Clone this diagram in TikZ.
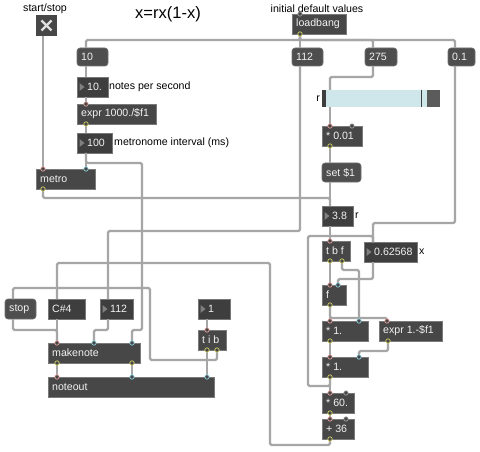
\documentclass[tikz,border=0pt]{standalone}
\usepackage{fontspec}
\setmainfont{Liberation Sans}
\usetikzlibrary{shapes,arrows,positioning}
\definecolor{boxbg}{HTML}{474747}
\definecolor{boxline}{HTML}{7A7A7A}
\definecolor{msgbg}{HTML}{4E4E4E}
\definecolor{numbg}{HTML}{3E3E3E}
\definecolor{cord}{HTML}{A6A6A6}
\definecolor{hotin}{HTML}{E9A3A0}
\definecolor{coldin}{HTML}{8FD3E3}
\definecolor{outc}{HTML}{D4D46A}
\definecolor{idle}{HTML}{A0A0A0}
\definecolor{slidebg}{HTML}{CFE6EA}
\tikzstyle{base}=[rectangle,anchor=north west,inner sep=0pt,outer sep=0pt,minimum height=20pt,line width=0.6pt]
\tikzstyle{obj}=[base,fill=boxbg,draw=boxline]
\tikzstyle{msg}=[base,fill=msgbg,draw=msgbg!80!white,rounded corners=3pt,minimum height=19pt]
\tikzstyle{num}=[base,fill=numbg,draw=numbg!70!white]
\tikzstyle{txt}=[anchor=west,inner sep=0pt,text=white!95!black,font=\fontsize{10.6}{12}\selectfont]
\tikzstyle{cmt}=[inner sep=0pt,font=\fontsize{10.6}{12}\selectfont]
\tikzstyle{cable}=[draw=cord,line width=2.4pt,rounded corners=1.5pt]
\tikzstyle{port}=[line width=0.7pt,fill=boxbg]

\newcommand{\objbox}[5]{% name, x, y, width, text
  \node[obj,minimum width=#4pt] (#1) at (#2,#3) {};
  \node[txt] (#1-t) at ([xshift=4pt]#1.west) {#5};}
\newcommand{\msgbox}[6][19]{% height, name, x, y, width, text
  \node[msg,minimum width=#5pt,minimum height=#1pt] (#2) at (#3,#4) {};
  \node[txt] (#2-t) at ([xshift=4pt]#2.west) {#6};}
\newcommand{\numbox}[5]{% name, x, y, width, text
  \node[num,minimum width=#4pt] (#1) at (#2,#3) {};
  \fill[gray] ([xshift=2.5pt,yshift=4pt]#1.west) -- ++(5pt,-4pt) -- ++(-5pt,-4pt) -- cycle;
  \node[txt] (#1-t) at ([xshift=10pt]#1.west) {#5};}
\newcommand{\inport}[3]{\draw[port,draw=#3] ([xshift=#2pt]#1.north west) circle (2.2pt);}
\newcommand{\outport}[2]{\draw[port,draw=outc] ([xshift=#2pt]#1.south west) circle (2.2pt);}

\begin{document}
\begin{tikzpicture}[x=1pt,y=-1pt]
\useasboundingbox[fill=white] (0,0) rectangle (480,452);

% comments
\node[cmt] (lblstart) at (45,9) {start/stop};
\node[cmt,font=\fontsize{16.5}{18}\selectfont] (title) at (168,14) {x=rx(1-x)};
\node[cmt] (lblinit) at (317,9) {initial default values};
\node[cmt,anchor=west] (lblnps) at (109,87) {notes per second};
\node[cmt,anchor=west] (lblint) at (114,143) {metronome interval (ms)};
\node[cmt,anchor=east] (lblr) at (320,99) {r};
\node[cmt,anchor=west] (lblr2) at (355,216) {r};
\node[cmt,anchor=west] (lblx) at (419,252) {x};

% toggle
\node[base,minimum width=21pt,minimum height=21pt,fill=boxbg] (toggle) at (36,15) {};
\draw[white!88!black,line width=2.2pt] ([shift={(5.5pt,-5.5pt)}]toggle.north west) -- ([shift={(-5.5pt,5.5pt)}]toggle.south east);
\draw[white!88!black,line width=2.2pt] ([shift={(5.5pt,5.5pt)}]toggle.south west) -- ([shift={(-5.5pt,-5.5pt)}]toggle.north east);

% tempo column
\msgbox[18]{msg10}{77}{48}{31}{10}
\numbox{num10}{77}{77}{31}{10.}
\objbox{expr1000}{77}{104}{79}{expr 1000./\$f1}
\numbox{num100}{77}{133}{35}{100}
\objbox{metro}{36}{169}{59}{metro}

% init values
\objbox{loadbang}{292}{14}{54}{loadbang}
\msgbox[18]{msg112}{292}{48}{31}{112}
\msgbox[18]{msg275}{365}{48}{32}{275}
\msgbox[18]{msg01}{448}{48}{27}{0.1}

% r slider
\node[base,minimum width=118pt,minimum height=17pt,fill=slidebg] (slider) at (322,90) {};
\fill[numbg] (slider.north west) rectangle ([xshift=4pt]slider.south west);
\draw[numbg,line width=1pt] ([xshift=99.5pt]slider.north west) -- ([xshift=99.5pt]slider.south west);
\fill[numbg!85!white] ([xshift=105pt]slider.north west) rectangle (slider.south east);

% logistic map
\objbox{mul001}{322}{126}{40}{* 0.01}
\msgbox{set1}{322}{163}{39}{set \$1}
\numbox{num38}{322}{206}{31}{3.8}
\objbox{tbf}{322}{241}{28}{t b f}
\numbox{numx}{364}{242}{53}{0.62568}
\objbox{fbox}{322}{285}{24}{f}
\objbox{mul1a}{322}{321}{46}{* 1.}
\objbox{expr1m}{379}{321}{63}{expr 1.-\$f1}
\objbox{mul1b}{322}{357}{46}{* 1.}
\objbox{mul60}{322}{393}{32}{* 60.}
\objbox{add36}{322}{419}{32}{+ 36}

% note output
\msgbox[20]{stop}{5}{299}{31}{stop}
\node[num,minimum width=37pt] (cs4) at (48,299) {};
\node[txt] (cs4-t) at ([xshift=4pt]cs4.west) {C\#4};
\numbox{num112}{100}{299}{33}{112}
\numbox{num1}{198}{299}{32}{1}
\objbox{tib}{198}{330}{28}{t i b}
\objbox{makenote}{48}{343}{92}{makenote}
\objbox{noteout}{48}{377}{166}{noteout}

% cables
\draw[cable] ([xshift=8pt]loadbang.south west) -- ++(0,6) -| ([xshift=9pt]msg10.north west);
\draw[cable] ([xshift=8pt]loadbang.south west) -- ([xshift=8pt]msg112.north west);
\draw[cable] ([xshift=8pt]loadbang.south west) -- ++(0,6) -| ([xshift=8pt]msg275.north west);
\draw[cable] ([xshift=8pt]loadbang.south west) -- ++(0,6) -| ([xshift=7pt]msg01.north west);
\draw[cable] ([xshift=9pt]msg10.south west) -- ([xshift=9pt]num10.north west);
\draw[cable] ([xshift=9pt]num10.south west) -- ([xshift=9pt]expr1000.north west);
\draw[cable] ([xshift=9pt]expr1000.south west) -- ([xshift=9pt]num100.north west);
\draw[cable] ([xshift=9pt]num100.south west) -- ([xshift=50pt]metro.north west);
\draw[cable] ([xshift=9pt]num100.south west) -- ++(0,10) -| (142,330) -| ([xshift=84pt]makenote.north west);
\draw[cable] ([xshift=7pt]toggle.south west) -- ([xshift=7pt]metro.north west);
\draw[cable] ([xshift=7pt]metro.south west) -- ++(0,9) -| ([xshift=8pt]num38.north west);
\draw[cable] ([xshift=8pt]msg112.south west) -- ++(0,165) -| ([xshift=8pt]num112.north west);
\draw[cable] ([xshift=8pt]num112.south west) -- ++(0,11) -| ([xshift=46pt]makenote.north west);
\draw[cable] ([xshift=8pt]stop.south west) -- ++(0,11) -| ([xshift=9pt]makenote.north west);
\draw[cable] ([xshift=9pt]cs4.south west) -- ([xshift=9pt]makenote.north west);
\draw[cable] ([xshift=8pt]add36.south west) -- ++(0,6) -| (270,263) -| ([xshift=9pt]cs4.north west);
\draw[cable] ([xshift=19pt]tib.south west) -- ++(0,10) -| (150,288) -| ([xshift=8pt]stop.north west);
\draw[cable] ([xshift=9pt]tib.south west) -- ([xshift=159pt]noteout.north west);
\draw[cable] ([xshift=9pt]num1.south west) -- ([xshift=9pt]tib.north west);
\draw[cable] ([xshift=9pt]makenote.south west) -- ([xshift=9pt]noteout.north west);
\draw[cable] ([xshift=84pt]makenote.south west) -- ([xshift=84pt]noteout.north west);
\draw[cable] ([xshift=8pt]msg275.south west) -- ++(0,11) -| ([xshift=8pt]slider.north west);
\draw[cable] ([xshift=8pt]slider.south west) -- ([xshift=8pt]mul001.north west);
\draw[cable] ([xshift=8pt]mul001.south west) -- ([xshift=8pt]set1.north west);
\draw[cable] ([xshift=8pt]set1.south west) -- ([xshift=8pt]num38.north west);
\draw[cable] ([xshift=8pt]num38.south west) -- ([xshift=8pt]tbf.north west);
\draw[cable] ([xshift=8pt]tbf.south west) -- ([xshift=8pt]fbox.north west);
\draw[cable] ([xshift=20pt]tbf.south west) -- ++(0,9) -| ([xshift=37pt]mul1a.north west);
\draw[cable] ([xshift=7pt]msg01.south west) -- ++(0,157) -| ([xshift=9pt]numx.north west);
\draw[cable] ([xshift=8pt]mul1b.south west) -- ++(0,9) -| (308,236) -| ([xshift=9pt]numx.north west);
\draw[cable] ([xshift=9pt]numx.south west) -- ++(0,17) -| ([xshift=16pt]fbox.north west);
\draw[cable] ([xshift=8pt]fbox.south west) -- ([xshift=8pt]mul1a.north west);
\draw[cable] ([xshift=8pt]fbox.south west) -- ++(0,13) -| ([xshift=8pt]expr1m.north west);
\draw[cable] ([xshift=8pt]mul1a.south west) -- ([xshift=8pt]mul1b.north west);
\draw[cable] ([xshift=9pt]expr1m.south west) -- ++(0,10) -| ([xshift=37pt]mul1b.north west);
\draw[cable] ([xshift=8pt]mul1b.south west) -- ([xshift=8pt]mul60.north west);
\draw[cable] ([xshift=8pt]mul60.south west) -- ([xshift=8pt]add36.north west);

% inlets and outlets
\inport{expr1000}{9}{hotin} \outport{expr1000}{9}
\inport{metro}{7}{hotin} \inport{metro}{50}{coldin} \outport{metro}{7}
\inport{loadbang}{8}{idle} \outport{loadbang}{8}
\inport{mul001}{8}{hotin} \inport{mul001}{30}{idle} \outport{mul001}{8}
\inport{tbf}{8}{hotin} \outport{tbf}{8} \outport{tbf}{20}
\inport{fbox}{8}{hotin} \inport{fbox}{16}{coldin} \outport{fbox}{8}
\inport{mul1a}{8}{hotin} \inport{mul1a}{37}{coldin} \outport{mul1a}{8}
\inport{expr1m}{8}{hotin} \outport{expr1m}{9}
\inport{mul1b}{8}{hotin} \inport{mul1b}{37}{coldin} \outport{mul1b}{8}
\inport{mul60}{8}{hotin} \inport{mul60}{24}{idle} \outport{mul60}{8}
\inport{add36}{8}{hotin} \inport{add36}{24}{idle} \outport{add36}{8}
\inport{tib}{9}{hotin} \outport{tib}{9} \outport{tib}{19}
\inport{makenote}{9}{hotin} \inport{makenote}{46}{coldin} \inport{makenote}{84}{coldin}
\outport{makenote}{9} \outport{makenote}{84}
\inport{noteout}{9}{hotin} \inport{noteout}{84}{coldin} \inport{noteout}{159}{coldin}
\end{tikzpicture}
\end{document}
